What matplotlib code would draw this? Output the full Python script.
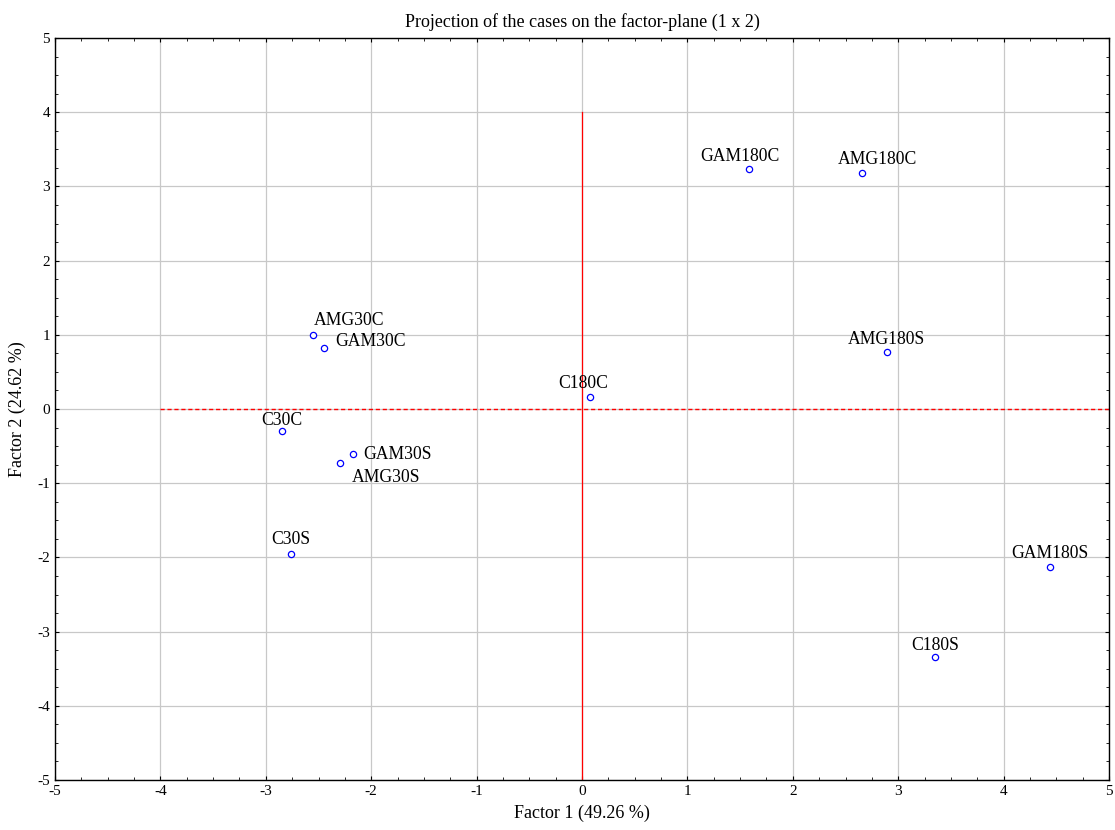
import matplotlib
matplotlib.use("Agg")
import matplotlib.pyplot as plt
from matplotlib.ticker import MultipleLocator

plt.rcParams['font.family'] = ['Liberation Serif', 'DejaVu Serif']
plt.rcParams['axes.unicode_minus'] = False

# case coordinates on the factor plane
labels = ["GAM180C", "AMG180C", "AMG30C", "GAM30C", "AMG180S", "C180C",
          "C30C", "GAM30S", "AMG30S", "C30S", "GAM180S", "C180S"]
factor1 = [1.58, 2.66, -2.55, -2.45, 2.89, 0.08,
           -2.85, -2.17, -2.30, -2.76, 4.44, 3.35]
factor2 = [3.23, 3.18, 1.00, 0.82, 0.77, 0.16,
           -0.30, -0.61, -0.73, -1.95, -2.13, -3.34]

# label offsets (points) and alignment
offsets = {
    "GAM180C": ((-6, 9), "center"),
    "AMG180C": ((11, 10), "center"),
    "AMG30C": ((26, 10), "center"),
    "GAM30C": ((8, 5), "left"),
    "AMG180S": ((0, 9), "center"),
    "C180C": ((-5, 10), "center"),
    "C30C": ((0, 8), "center"),
    "GAM30S": ((7, 0), "left"),
    "AMG30S": ((9, -10), "left"),
    "C30S": ((0, 10), "center"),
    "GAM180S": ((0, 10), "center"),
    "C180S": ((0, 8), "center"),
}

fig = plt.figure(figsize=(11.15, 8.3), dpi=100)
ax = fig.add_axes([55 / 1115, 1 - 780 / 830, (1109 - 55) / 1115, (780 - 38) / 830])

ax.set_xlim(-5, 5)
ax.set_ylim(-5, 5)
ax.xaxis.set_major_locator(MultipleLocator(1))
ax.yaxis.set_major_locator(MultipleLocator(1))
ax.xaxis.set_minor_locator(MultipleLocator(0.25))
ax.yaxis.set_minor_locator(MultipleLocator(0.25))
ax.grid(True, which='major', color='#c8c8c8', linewidth=0.9)
ax.set_axisbelow(True)
ax.tick_params(which='both', direction='in', top=True, right=True,
               labelsize=11, colors='black')
ax.tick_params(which='major', length=3)
ax.tick_params(which='minor', length=2)
for s in ax.spines.values():
    s.set_linewidth(1.0)

ax.plot([0, 0], [-5, 4], color='red', linewidth=0.9, zorder=2)
ax.plot([-4, 5], [0, 0], color='red', linewidth=1.0, linestyle=(0, (3, 2)),
        dash_capstyle='butt', zorder=2)

ax.plot(factor1, factor2, 'o', markersize=4.5, markerfacecolor='white',
        markeredgecolor='blue', markeredgewidth=0.9, linestyle='none', zorder=3)

for lab, x, y in zip(labels, factor1, factor2):
    (dx, dy), ha = offsets[lab]
    ax.annotate(lab, (x, y), xytext=(dx, dy), textcoords='offset points',
                ha=ha, va='center', fontsize=12.7, zorder=4)

ax.set_title("Projection of the cases on the factor-plane (1 x 2)", fontsize=13, pad=8)
ax.set_xlabel("Factor 1 (49.26 %)", fontsize=13, labelpad=5)
ax.set_ylabel("Factor 2 (24.62 %)", fontsize=13, labelpad=8)

fig.savefig("out.png", dpi=100)
